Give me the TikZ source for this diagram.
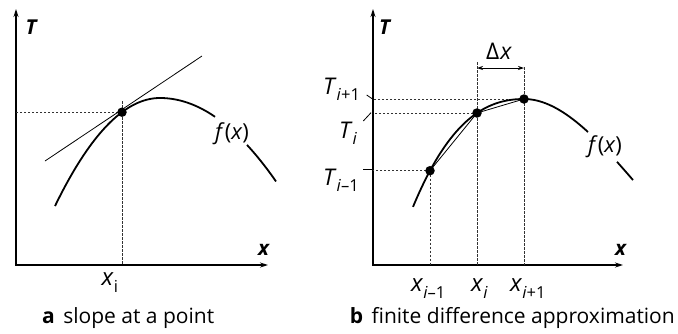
\documentclass[tikz,border=0pt]{standalone}
\usepackage{fontspec}
\setmainfont{Open Sans}
\usetikzlibrary{arrows.meta}
\newcommand\sbs[1]{\raisebox{-0.3em}{\fontsize{16.5}{16.5}\selectfont #1}}
\begin{document}
\begin{tikzpicture}[x=1pt,y=-1pt,
  axisl/.style={line width=1.1pt,{Stealth[length=8pt,width=5pt]}-{Stealth[length=8pt,width=5pt]}},
  curve/.style={line width=1.8pt},
  thinl/.style={line width=0.8pt},
  guide/.style={line width=0.7pt,dash pattern=on 2.5pt off 1.5pt,black!80},
  dot/.style={circle,fill=black,inner sep=0pt,minimum size=9.5pt},
  lbl/.style={font=\fontsize{23}{23}\selectfont,inner sep=0pt,anchor=base west},
  xlbl/.style={font=\fontsize{24}{24}\selectfont,inner sep=0pt,anchor=base west},
  axlbl/.style={font=\fontsize{20.5}{20.5}\selectfont\bfseries\itshape,inner sep=0pt},
  caption/.style={font=\fontsize{21}{21}\selectfont,inner sep=0pt},
  leader/.style={line width=0.8pt},
  dim/.style={line width=0.8pt,{Stealth[length=6pt,width=4pt]}-{Stealth[length=6pt,width=4pt]}}]
\useasboundingbox (0,0) rectangle (678,333);
% ---------------- panel a ----------------
\coordinate (oa) at (16,265);
\coordinate (ya) at (16,9);
\coordinate (xa) at (268,265);
\draw[axisl] (ya) -- (oa) -- (xa);
\node[axlbl] (Ta) at (31,27) {T};
\node[axlbl] (xla) at (263.5,250) {x};
\coordinate (pa) at (122,112.2);
\coordinate (pat) at (122,101);
\draw[guide] (pa) -- (oa |- pa);
\draw[guide] (pat) -- (pat |- oa);
\coordinate (ta1) at (45,161);
\coordinate (ta2) at (202,56);
\draw[thinl] (ta1) -- (ta2);
\draw[curve] plot[domain=55:160,samples=50] (\x,{98+98*((\x-160)/100)^2})
  -- plot[domain=160:215,samples=25] (\x,{98+62*((\x-160)/100)^2});
\draw[curve] plot[domain=247:276,samples=15] (\x,{98+62*((\x-160)/100)^2});
\node[dot] (pad) at (pa) {};
\node[inner sep=0pt,font=\fontsize{22}{22}\selectfont] (fa) at (232,134) {\textit{f}(\textit{x})};
\node[xlbl] (xia) at (101.5,285.5) {\textit{x}\sbs{i}};
\node[caption,anchor=base west] (capa) at (42,323) {\textbf{a}\hspace{0.4em}slope at a point};
% ---------------- panel b ----------------
\coordinate (ob) at (373,265);
\coordinate (yb) at (373,9);
\coordinate (xb) at (623,265);
\draw[axisl] (yb) -- (ob) -- (xb);
\node[axlbl] (Tb) at (384.5,27) {T};
\node[axlbl] (xlb) at (620.5,250) {x};
\coordinate (p1) at (430,170.7);
\coordinate (p2) at (477,113.0);
\coordinate (p3) at (524,99);
\coordinate (v2) at (477,62);
\coordinate (v3) at (524,67);
\draw[guide] (p1) -- (ob |- p1);
\draw[guide] (p2) -- (ob |- p2);
\draw[guide] (p3) -- (ob |- p3);
\draw[guide] (p1) -- (p1 |- ob);
\draw[guide] (v2) -- (v2 |- ob);
\draw[guide] (v3) -- (v3 |- ob);
\coordinate (d1) at (477,68);
\coordinate (d2) at (524,68);
\draw[dim] (d1) -- (d2);
\node[inner sep=0pt,font=\fontsize{23}{23}\selectfont] (dx) at (499,51) {Δ\hspace{1pt}\textit{x}};
\draw[curve] plot[domain=413:524,samples=50] (\x,{99+45.6*((\x-524)/100)^2-37.8*((\x-524)/100)^3})
  -- plot[domain=524:588,samples=30] (\x,{99+98.2*((\x-524)/100)^2-27.5*((\x-524)/100)^3});
\draw[curve] plot[domain=617:633,samples=10] (\x,{99+98.2*((\x-524)/100)^2-27.5*((\x-524)/100)^3});
\draw[thinl] (p1) -- (p2) -- (p3);
\node[dot] (p1d) at (p1) {};
\node[dot] (p2d) at (p2) {};
\node[dot] (p3d) at (p3) {};
\node[inner sep=0pt,font=\fontsize{22}{22}\selectfont] (fb) at (605,147) {\textit{f}(\textit{x})};
% T labels with leaders
\node[lbl] (T3) at (323,94) {\textit{T}\sbs{\textit{i}+1}};
\node[lbl] (T2) at (339,138) {\textit{T}\sbs{\textit{i}}};
\node[lbl] (T1) at (323,185) {\textit{T}\sbs{\textit{i}–1}};
\coordinate (l3a) at (366.7,95);
\coordinate (l3b) at (372.5,99);
\coordinate (l2a) at (363.3,121);
\coordinate (l2b) at (371,112.7);
\coordinate (l1a) at (363.3,169.5);
\coordinate (l1b) at (373,169.5);
\draw[leader] (l3a) -- (l3b);
\draw[leader] (l2a) -- (l2b);
\draw[leader] (l1a) -- (l1b);
% x labels
\node[xlbl] (x1) at (411,291) {\textit{x}\sbs{\textit{i}–1}};
\node[xlbl] (x2) at (471,291) {\textit{x}\sbs{\textit{i}}};
\node[xlbl] (x3) at (510,291) {\textit{x}\sbs{\textit{i}+1}};
\node[caption,anchor=base east] (capb) at (675,323) {\textbf{b}\hspace{0.4em}finite difference approximation};
\end{tikzpicture}
\end{document}
